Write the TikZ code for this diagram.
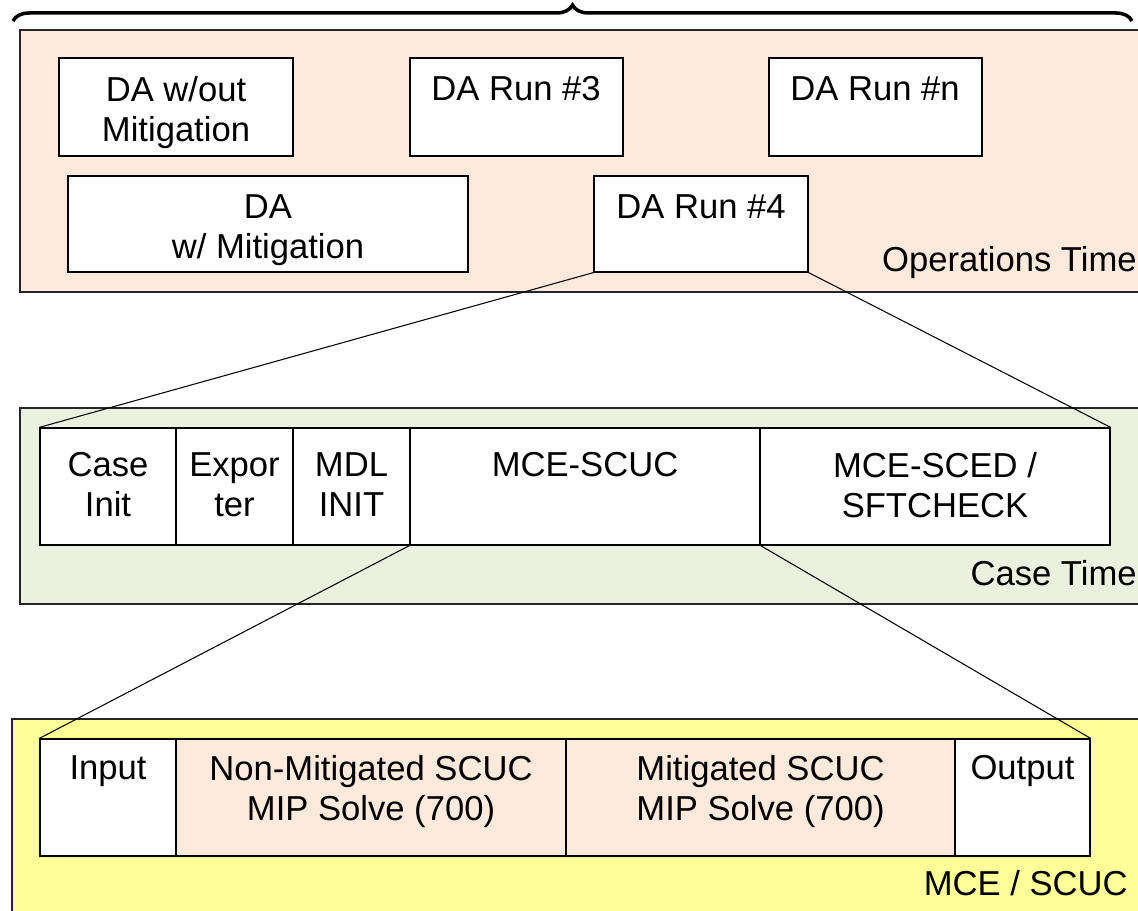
\documentclass[tikz,border=0pt]{standalone}
\usepackage{fontspec}
\setmainfont{Liberation Sans}
\usetikzlibrary{decorations.pathreplacing,fit}
\definecolor{opsfill}{RGB}{253,234,220}
\definecolor{casefill}{RGB}{235,241,222}
\definecolor{mcefill}{RGB}{255,255,153}
\tikzset{
  panel/.style={draw=black!85, line width=0.6pt},
  stage/.style={draw, line width=0.7pt, inner sep=0pt, fill=white},
  caption/.style={font=\fontsize{19.7}{23}\selectfont, align=center, anchor=north, inner sep=0pt},
  tag/.style={font=\fontsize{19.7}{23}\selectfont, anchor=east, inner sep=0pt},
}
\begin{document}
\begin{tikzpicture}[x=0.02cm,y=-0.02cm]
\useasboundingbox (0,0) rectangle (1138,911);
\clip (0,0) rectangle (1138,911);

% brace over the whole time line
\draw[line width=2pt,decorate,decoration={brace,amplitude=0.32cm}] (13,21) -- (1132,21);

% panels
\draw[panel,fill=opsfill] (20,30) rectangle (1160,292);
\draw[panel,fill=casefill] (20,408) rectangle (1160,604);
\draw[panel,fill=mcefill] (12,719) rectangle (1160,930);

% operations time
\node[stage,fit={(59,58) (293,156)}] (wout) {};
\node[stage,fit={(410,58) (623,156)}] (run3) {};
\node[stage,fit={(769,58) (982,156)}] (runn) {};
\node[stage,fit={(68,176) (468,272)}] (wmit) {};
\node[stage,fit={(594,176) (808,272)}] (run4) {};
\node[caption] (woutt) at (176,76) {DA w/out\\Mitigation};
\node[caption] (run3t) at (516,76) {DA Run \#3};
\node[caption] (runnt) at (875,76) {DA Run \#n};
\node[caption] (wmitt) at (268,194) {DA\\w/ Mitigation};
\node[caption] (run4t) at (701,194) {DA Run \#4};
\node[tag] (opst) at (1137,263) {Operations Time};

% case time
\node[stage,fit={(40,428) (176,545)}] (init) {};
\node[stage,fit={(176,428) (293,545)}] (expo) {};
\node[stage,fit={(293,428) (410,545)}] (mdl) {};
\node[stage,fit={(410,428) (760,545)}] (scuc) {};
\node[stage,fit={(760,428) (1110,545)}] (sced) {};
\node[caption] (initt) at (108,452) {Case\\Init};
\node[caption] (expot) at (234.5,452) {Expor\\ter};
\node[caption] (mdlt) at (351.5,452) {MDL\\INIT};
\node[caption] (scuct) at (585,452) {MCE-SCUC};
\node[caption] (scedt) at (935,452) {MCE-SCED /\\SFTCHECK};
\node[tag] (caset) at (1137,573) {Case Time};

% mce / scuc
\node[stage,fit={(40,739) (176,856)}] (inp) {};
\node[stage,fit={(176,739) (566,856)},fill=opsfill] (nonmit) {};
\node[stage,fit={(566,739) (955,856)},fill=opsfill] (mit) {};
\node[stage,fit={(955,739) (1090,856)}] (outp) {};
\node[caption] (inpt) at (108,755) {Input};
\node[caption] (nonmitt) at (371,755) {Non-Mitigated SCUC\\MIP Solve (700)};
\node[caption] (mitt) at (760.5,755) {Mitigated SCUC\\MIP Solve (700)};
\node[caption] (outpt) at (1022.5,755) {Output};
\node[tag] (mcet) at (1128,883) {MCE / SCUC};

% zoom lines
\draw[line width=0.6pt] (run4.south west) -- (init.north west);
\draw[line width=0.6pt] (run4.south east) -- (sced.north east);
\draw[line width=0.6pt] (scuc.south west) -- (inp.north west);
\draw[line width=0.6pt] (scuc.south east) -- (outp.north east);
\end{tikzpicture}
\end{document}
